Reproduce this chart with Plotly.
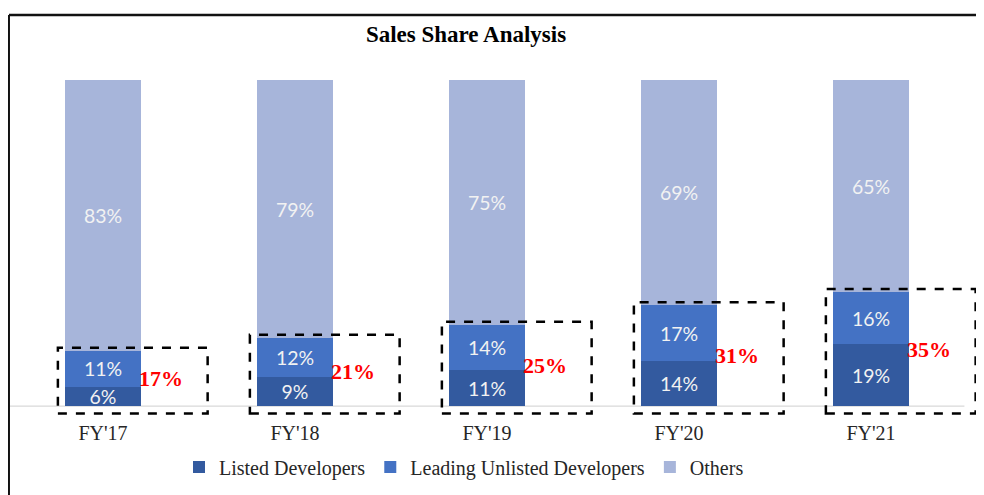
import plotly.graph_objects as go

categories = ["FY'17", "FY'18", "FY'19", "FY'20", "FY'21"]
listed = [6, 9, 11, 14, 19]
leading_unlisted = [11, 12, 14, 17, 16]
others = [83, 79, 75, 69, 65]
combined = [17, 21, 25, 31, 35]

xs = list(range(len(categories)))

series = [
    ("Listed Developers", listed, "#335A9F"),
    ("Leading Unlisted Developers", leading_unlisted, "#4472C4"),
    ("Others", others, "#A7B5DA"),
]

# page body has an 8px margin: figure is placed at (8, 8) in the window
W, H = 976, 487
PLOT_H = 335.8
BOTTOM = 407.8  # figure-pixel y of plot-area bottom

fig = go.Figure()
for name, vals, col in series:
    fig.add_trace(go.Bar(
        x=xs, y=vals, name=name, marker=dict(color=col, line=dict(width=0)),
        width=0.4, text=[f"{v}%" for v in vals], textposition="inside",
        insidetextanchor="middle",
        textfont=dict(family="Lato", size=20, color="#F2F2F2"),
    ))

shapes = []
annotations = []
for i, t in enumerate(combined):
    shapes.append(dict(type="rect", xref="x", yref="y", x0=i - 0.235, x1=i + 0.545,
                       y0=-2.2, y1=t + 0.9, line=dict(color="black", width=2.5, dash="dash"),
                       layer="above"))
    annotations.append(dict(x=i + 0.3, y=t / 2, xref="x", yref="y", text=f"<b>{t}%</b>",
                            showarrow=False, xanchor="center", yanchor="middle",
                            font=dict(family="Liberation Serif", size=22, color="#FF0000")))

# baseline
shapes.append(dict(type="line", xref="paper", yref="y", x0=0.002, x1=0.985, y0=0, y1=0,
                   line=dict(color="#D9D9D9", width=1.2), layer="below"))
# frame
top_y = (BOTTOM - 7) / PLOT_H
shapes.append(dict(type="line", xref="paper", yref="paper", x0=0.001, x1=1.01,
                   y0=top_y, y1=top_y, line=dict(color="#111", width=2.5)))
shapes.append(dict(type="line", xref="paper", yref="paper", x0=0.001, x1=0.001,
                   y0=top_y, y1=(BOTTOM - 487) / PLOT_H, line=dict(color="#111", width=2)))

fig.update_layout(
    width=W, height=H,
    margin=dict(l=0, r=5, t=72, b=79.2, pad=0),
    paper_bgcolor="white", plot_bgcolor="white",
    barmode="stack",
    title=dict(text="<b>Sales Share Analysis</b>", x=458 / W, xanchor="center",
               y=1 - 26 / H, yanchor="middle",
               font=dict(family="Liberation Serif", size=23, color="black")),
    xaxis=dict(range=[-0.4948, 4.5625], tickvals=xs, ticktext=categories, showgrid=False,
               zeroline=False, showline=False, ticks="", ticklabelstandoff=3,
               tickfont=dict(family="Liberation Serif", size=20, color="#262626")),
    yaxis=dict(range=[-3, 100], visible=False, showgrid=False, zeroline=False),
    legend=dict(orientation="h", x=456 / 971, xanchor="center", y=-0.152, yanchor="middle",
                traceorder="normal", itemwidth=30,
                font=dict(family="Liberation Serif", size=20, color="#262626")),
    uniformtext=dict(minsize=19, mode="show"),
    shapes=shapes, annotations=annotations,
)

fig.write_html("out.html")
